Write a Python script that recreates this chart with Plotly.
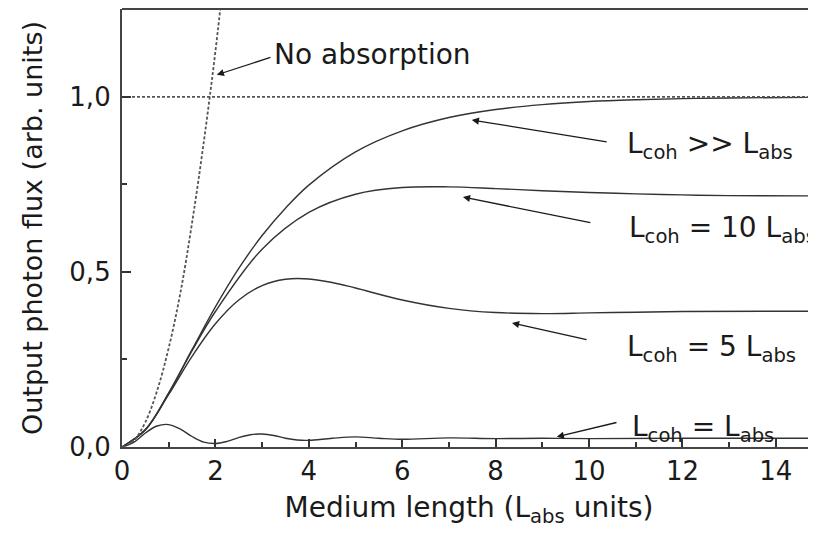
import plotly.graph_objects as go

# medium length in L_abs units
x_coh_inf = [0, 0.5, 1, 1.5, 2, 2.5, 3, 3.5, 4, 5, 6, 7, 8, 9, 10, 11, 12, 13, 15]
y_coh_inf = [0, 0.049, 0.155, 0.278, 0.40, 0.51, 0.604, 0.682, 0.748, 0.843, 0.903,
             0.941, 0.964, 0.978, 0.987, 0.992, 0.995, 0.997, 0.999]

x_coh10 = [0, 0.5, 1, 1.5, 2, 3, 4, 5, 6, 7, 8, 9, 10, 11, 12, 13, 15]
y_coh10 = [0, 0.049, 0.153, 0.275, 0.387, 0.565, 0.670, 0.722, 0.741, 0.743, 0.738,
           0.732, 0.727, 0.723, 0.720, 0.718, 0.717]

x_coh5 = [0, 0.5, 1, 1.5, 2, 2.5, 3, 3.5, 4, 4.5, 5, 6, 7, 8, 9, 10, 11, 12, 15]
y_coh5 = [0, 0.049, 0.150, 0.259, 0.352, 0.420, 0.461, 0.479, 0.480, 0.470, 0.454,
          0.420, 0.396, 0.384, 0.381, 0.383, 0.385, 0.387, 0.388]

x_coh1 = [0, 0.25, 0.5, 0.75, 1, 1.25, 1.5, 1.75, 2, 2.25, 2.5, 2.75, 3, 3.25, 3.5,
          3.75, 4, 4.5, 5, 5.5, 6, 7, 8, 9, 10, 12, 15]
y_coh1 = [0, 0.013, 0.040, 0.060, 0.064, 0.051, 0.030, 0.014, 0.010, 0.016, 0.027,
          0.035, 0.037, 0.033, 0.025, 0.020, 0.019, 0.025, 0.029, 0.025, 0.022, 0.026,
          0.024, 0.025, 0.024, 0.025, 0.025]

x_noabs = [0, 0.25, 0.5, 0.75, 1, 1.25, 1.5, 1.75, 2.0, 2.25]
y_noabs = [0, 0.018, 0.071, 0.16, 0.283, 0.44, 0.64, 0.87, 1.13, 1.43]

x_limit = [0, 15]
y_limit = [1.0, 1.0]

FONT = "DejaVu Sans"
INK = "#1a1a1a"

fig = go.Figure()
for xs, ys in [(x_coh_inf, y_coh_inf), (x_coh10, y_coh10), (x_coh5, y_coh5), (x_coh1, y_coh1)]:
    fig.add_trace(go.Scatter(x=xs, y=ys, mode="lines", line=dict(color="#333333", width=1.4, shape="spline"),
                             showlegend=False))
fig.add_trace(go.Scatter(x=x_noabs, y=y_noabs, mode="lines",
                         line=dict(color="#555555", width=1.8, dash="3px,2px", shape="spline"), showlegend=False))
fig.add_trace(go.Scatter(x=x_limit, y=y_limit, mode="lines",
                         line=dict(color="#555555", width=1.8, dash="3px,2px"), showlegend=False))

# arrows: (head x, head y, tail x, tail y), then label at the tail
arrows = [
    (2.03, 1.063, 3.21, 1.114, "No absorption", 3.21, 1.12),
    (7.49, 0.934, 10.41, 0.871, "L<sub>coh</sub> &gt;&gt; L<sub>abs</sub>", 10.77, 0.862),
    (7.30, 0.714, 10.06, 0.640, "L<sub>coh</sub> = 10 L<sub>abs</sub>", 10.81, 0.620),
    (8.35, 0.354, 9.98, 0.306, "L<sub>coh</sub> = 5 L<sub>abs</sub>", 10.77, 0.280),
    (9.31, 0.029, 10.62, 0.071, "L<sub>coh</sub> = L<sub>abs</sub>", 10.88, 0.052),
]
for hx, hy, tx, ty, label, lx, ly in arrows:
    fig.add_annotation(x=hx, y=hy, ax=tx, ay=ty, axref="x", ayref="y", xref="x", yref="y",
                       text="", showarrow=True, arrowhead=2, arrowsize=1.1, arrowwidth=1.3,
                       arrowcolor=INK)
    fig.add_annotation(x=lx, y=ly, xref="x", yref="y", text=label, showarrow=False,
                       xanchor="left", yanchor="middle", font=dict(family=FONT, size=28, color=INK))

# top frame line (right side is cut off in the original)
fig.add_shape(type="line", xref="paper", yref="paper", x0=0, x1=1, y0=1, y1=1,
              line=dict(color="#444444", width=2.2))

# the page body adds 8px on the top and left, so the figure is 8px smaller
fig.update_layout(
    width=808, height=526,
    margin=dict(l=114, r=0, t=1, b=87),
    paper_bgcolor="white", plot_bgcolor="white",
    separators=",.",
    font=dict(family=FONT, size=25, color=INK),
    xaxis=dict(range=[0, 14.86], tickvals=[0, 2, 4, 6, 8, 10, 12, 14], ticks="inside", ticklen=8,
               tickwidth=2, tickcolor="#333333", showline=True, linecolor="#444444", linewidth=2.2,
               showgrid=False, zeroline=False, automargin=False,
               minor=dict(tickvals=[1, 3, 5, 7, 9, 11, 13], ticks="inside", ticklen=5, tickwidth=2,
                          tickcolor="#333333"),
               title=dict(text="Medium length (L<sub>abs</sub> units)", standoff=12,
                          font=dict(family=FONT, size=28, color=INK)),
               tickfont=dict(family=FONT, size=26, color=INK)),
    yaxis=dict(range=[0, 1.251], tickvals=[0, 0.5, 1.0], tickformat=".1f", ticks="inside", ticklen=9,
               tickwidth=2, tickcolor="#333333", showline=True, linecolor="#444444", linewidth=2.2,
               showgrid=False, zeroline=False, automargin=False,
               minor=dict(tickvals=[0.25, 0.75], ticks="inside", ticklen=5, tickwidth=2,
                          tickcolor="#333333"),
               ticklabelstandoff=4,
               title=dict(text="Output photon flux (arb. units)", standoff=19,
                          font=dict(family=FONT, size=27, color=INK)),
               tickfont=dict(family=FONT, size=26, color=INK)),
)

fig.write_html("out.html")
